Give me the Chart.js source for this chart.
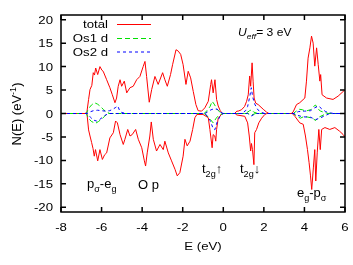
<!DOCTYPE html>
<html>
<head>
<meta charset="utf-8">
<script src="https://cdn.jsdelivr.net/npm/chart.js@4.4.0/dist/chart.umd.min.js"></script>
<style>
  body { margin: 0; background: #fff; }
  #wrap { width: 353px; height: 265px; }
</style>
</head>
<body>
<div id="wrap"><canvas id="dos" width="353" height="265"></canvas></div>
<script>
// total DOS, spin up (positive) and spin down (negative), energies in eV
const totalUpE = [-8, -6.80, -6.72, -6.64, -6.57, -6.48, -6.41, -6.35, -6.29, -6.19, -6.08, -5.98, -5.92, -5.75, -5.59, -5.47, -5.34, -5.26, -5.18, -5.09, -5.01, -4.88, -4.76, -4.60, -4.44, -4.27, -4.11, -3.95, -3.86, -3.78, -3.65, -3.53, -3.37, -3.21, -2.99, -2.88, -2.76, -2.60, -2.50, -2.33, -2.22, -2.10, -1.98, -1.84, -1.73, -1.61, -1.48, -1.35, -1.24, -1.07, -0.91, -0.74, -0.62, -0.58, -0.50, -0.41, -0.33, -0.25, -0.15, -0.05, 0.55, 0.67, 0.73, 0.90, 1.05, 1.15, 1.23, 1.30, 1.35, 1.42, 1.47, 1.52, 1.60, 1.72, 1.97, 2.13, 2.25, 3.35, 3.44, 3.61, 3.77, 4.02, 4.10, 4.18, 4.27, 4.35, 4.43, 4.51, 4.60, 4.68, 4.76, 4.80, 4.87, 5.09, 5.41, 5.66, 5.91, 6];
const totalUpN = [0, 0, 0.4, 3, 5.1, 6, 8.7, 8.2, 9.7, 8.3, 10, 9.2, 9.0, 7.2, 5.5, 4.0, 2.3, 3.3, 5.8, 7.2, 5.8, 6.9, 4.4, 5.5, 5.8, 7.2, 7.9, 10, 11.1, 7.9, 2.4, 5.1, 7.9, 6.2, 8.7, 7.2, 5.8, 8.3, 10.4, 13.6, 13.3, 12.6, 10.4, 6.2, 9.0, 7.6, 4.7, 1.9, 0.6, 0.5, 1.2, 2.6, 6.2, 7.2, 4.4, 7.2, 3.0, 1.6, 0.6, 0, 0, 0.5, 0.5, 0.8, 1.5, 2.6, 4.0, 8.0, 5.8, 10.8, 6.9, 3.3, 2.2, 1.9, 0.9, 0.3, 0, 0, 0.3, 1.9, 2.3, 3.3, 6.9, 11.8, 14.0, 16.5, 15.0, 10.1, 14.0, 10.4, 6.9, 8.3, 4.0, 3.3, 3.0, 3.7, 4.7, 5];
const totalDnE = [-8, -6.80, -6.72, -6.64, -6.57, -6.49, -6.42, -6.36, -6.30, -6.19, -6.08, -5.96, -5.85, -5.75, -5.59, -5.42, -5.31, -5.22, -5.09, -4.93, -4.85, -4.71, -4.60, -4.49, -4.32, -4.19, -4.02, -3.89, -3.83, -3.75, -3.62, -3.55, -3.45, -3.29, -3.12, -2.96, -2.88, -2.71, -2.55, -2.38, -2.27, -2.14, -1.98, -1.89, -1.78, -1.64, -1.51, -1.40, -1.30, -1.00, -0.74, -0.66, -0.55, -0.50, -0.42, -0.37, -0.33, -0.25, -0.05, 0.60, 0.65, 1.06, 1.20, 1.28, 1.35, 1.39, 1.44, 1.51, 1.55, 1.64, 1.75, 1.89, 2.05, 2.15, 3.40, 3.53, 3.77, 3.94, 4.05, 4.15, 4.23, 4.30, 4.36, 4.44, 4.51, 4.56, 4.63, 4.71, 4.78, 4.85, 5.01, 5.25, 5.50, 5.74, 5.91, 6];
const totalDnN = [0, 0, 0, -3.5, -4.8, -6.2, -7.5, -9.1, -7.7, -10.1, -7.7, -9.8, -8.8, -8.4, -5.2, -4.1, -1.6, -2.0, -4.5, -6.6, -5.5, -3.4, -4.8, -4.5, -3.4, -5.5, -7.3, -10.1, -11.2, -8.4, -4.8, -1.8, -5.5, -8.0, -6.6, -7.7, -5.9, -8.4, -10.1, -11.9, -13.3, -12.6, -9.1, -5.5, -6.9, -5.9, -3.4, -0.9, -0.2, -0.2, -0.9, -3.4, -7.3, -4.5, -4.8, -5.9, -3.4, -1.0, 0, 0, -0.3, -0.6, -2.0, -4.8, -8.0, -6.4, -7.7, -10.9, -4.1, -3.4, -2.0, -1.0, -0.2, 0, 0, -0.6, -2.0, -2.3, -4.8, -7.7, -10.5, -13.3, -16.2, -11.6, -7.7, -14.4, -8.4, -3.4, -7.7, -3.4, -3.0, -3.4, -3.0, -3.8, -4.5, -5];

// Os1 d
const os1UpE = [-8, -6.75, -6.65, -6.50, -6.35, -6.20, -6.05, -5.90, -5.75, -5.60, -0.95, -0.80, -0.65, -0.55, -0.45, -0.30, -0.15, 0, 1.10, 1.30, 1.40, 1.50, 1.70, 3.45, 3.60, 3.75, 3.90, 4.05, 4.30, 4.45, 4.55, 4.65, 4.80, 5.00, 5.20, 6];
const os1UpN = [0, 0, 1.0, 1.8, 2.3, 2.0, 1.5, 0.8, 0.3, 0, 0, 0.6, 1.5, 2.6, 2.0, 0.9, 0.2, 0, 0, 0.6, 0.8, 0.3, 0, 0, 0.5, 0.9, 0.8, 0.5, 0.8, 1.5, 1.8, 1.0, 0.5, 0.2, 0, 0];
const os1DnE = [-8, -6.75, -6.65, -6.50, -6.30, -6.15, -6.00, -5.85, -5.70, -0.95, -0.80, -0.65, -0.50, -0.35, -0.20, 0, 1.20, 1.40, 1.60, 3.45, 3.60, 3.80, 4.00, 4.40, 4.55, 4.70, 5.00, 5.20, 6];
const os1DnN = [0, 0, -1.0, -1.7, -2.1, -1.7, -1.2, -0.6, 0, 0, -0.5, -1.2, -2.0, -1.0, -0.3, 0, 0, -0.3, 0, 0, -0.5, -1.0, -0.6, -1.0, -1.5, -0.8, -0.2, 0, 0];

// Os2 d
const os2UpE = [-8, -6.75, -6.60, -6.40, -6.20, -6.00, -5.80, -5.60, -5.45, -5.30, -5.20, -5.10, -5.00, -4.80, -0.90, -0.75, -0.60, -0.45, -0.30, -0.15, 0, 0.90, 1.10, 1.20, 1.30, 1.38, 1.45, 1.55, 1.70, 1.90, 2.05, 3.50, 3.70, 4.00, 4.30, 4.50, 4.70, 4.85, 5.05, 5.30, 5.50, 6];
const os2UpN = [0, 0, 0.3, 0.6, 0.7, 0.6, 0.5, 0.6, 0.9, 1.3, 1.6, 0.5, 0.2, 0, 0, 0.4, 0.8, 1.0, 0.9, 0.3, 0, 0, 0.6, 1.5, 3.5, 5.5, 3.5, 2.0, 0.8, 0.2, 0, 0, 0.4, 0.5, 0.6, 1.2, 1.6, 1.0, 0.4, 0.1, 0, 0];
const os2DnE = [-8, -6.70, -6.55, -6.40, -6.25, -6.10, -5.95, -5.80, -5.60, -0.90, -0.80, -0.65, -0.50, -0.42, -0.30, -0.15, 0, 1.20, 1.40, 1.60, 3.45, 3.60, 3.90, 4.30, 4.55, 4.75, 5.00, 5.20, 5.40, 6];
const os2DnN = [0, 0, -0.8, -1.4, -1.6, -1.3, -0.8, -0.3, 0, 0, -0.5, -1.5, -3.2, -3.5, -1.8, -0.5, 0, 0, -0.5, 0, 0, -0.3, -0.7, -0.8, -1.3, -1.0, -0.5, -0.1, 0, 0];

const xTicks = [-8, -6, -4, -2, 0, 2, 4, 6];
const yTicks = [20, 15, 10, 5, 0, -5, -10, -15, -20];

const FONT = '"Liberation Sans", Arial, sans-serif';
const RED = "#ff0000";
const GREEN = "#00e000";
const BLUE = "#0000ff";

function pts(xs, ys) {
  return xs.map((e, i) => ({ x: e, y: ys[i] }));
}

function series(xs, ys, color, dash, order) {
  return {
    data: pts(xs, ys),
    borderColor: color,
    borderWidth: 1,
    borderDash: dash,
    pointRadius: 0,
    tension: 0,
    fill: false,
    order: order,
  };
}

// draws text made of parts (normal / sub / sup / italic), sx stretches horizontally
function runs(ctx, parts, x, y, size, sx, align) {
  ctx.save();
  let w = 0;
  parts.forEach((p) => {
    ctx.font = (p.it ? "italic " : "") + (p.sub || p.sup ? size * 0.7 : size) + "px " + FONT;
    w += ctx.measureText(p.t).width;
  });
  ctx.translate(x, y);
  ctx.scale(sx, 1);
  let cx = align === "right" ? -w : align === "center" ? -w / 2 : 0;
  ctx.textAlign = "left";
  ctx.textBaseline = "alphabetic";
  ctx.fillStyle = "#000";
  parts.forEach((p) => {
    const fs = p.sub || p.sup ? size * 0.7 : size;
    ctx.font = (p.it ? "italic " : "") + fs + "px " + FONT;
    const dy = p.sub ? size * 0.3 : p.sup ? -size * 0.4 : 0;
    ctx.fillText(p.t, cx, dy);
    cx += ctx.measureText(p.t).width;
  });
  ctx.restore();
}

const extras = {
  id: "extras",
  afterDatasetsDraw(chart) {
    const { ctx, chartArea: a, scales } = chart;
    const x = scales.x;
    const y = scales.y;
    ctx.save();
    ctx.strokeStyle = "#000";
    ctx.lineWidth = 1.5;
    ctx.setLineDash([]);
    ctx.strokeRect(a.left, a.top, a.right - a.left, a.bottom - a.top);
    ctx.beginPath();
    xTicks.forEach((v) => {
      const px = x.getPixelForValue(v);
      ctx.moveTo(px, a.bottom);
      ctx.lineTo(px, a.bottom - 5);
      ctx.moveTo(px, a.top);
      ctx.lineTo(px, a.top + 5);
    });
    yTicks.forEach((v) => {
      const py = y.getPixelForValue(v);
      ctx.moveTo(a.left, py);
      ctx.lineTo(a.left + 5, py);
      ctx.moveTo(a.right, py);
      ctx.lineTo(a.right - 5, py);
    });
    ctx.stroke();

    // tick labels
    yTicks.forEach((v) => {
      runs(ctx, [{ t: String(v) }], a.left - 8, y.getPixelForValue(v) + 4, 11, 1.2, "right");
    });
    xTicks.forEach((v) => {
      runs(ctx, [{ t: String(v) }], x.getPixelForValue(v), 231, 11, 1.2, "center");
    });

    // axis titles
    runs(ctx, [{ t: "E (eV)" }], (a.left + a.right) / 2, 250, 11, 1.2, "center");
    ctx.save();
    ctx.translate(21, 114);
    ctx.rotate(-Math.PI / 2);
    runs(ctx, [{ t: "N(E) (eV" }, { t: "-1", sup: true }, { t: ")" }], 0, 0, 13, 1, "center");
    ctx.restore();

    // legend
    const legend = [
      ["total", RED, [], 24],
      ["Os1 d", GREEN, [5, 3], 38],
      ["Os2 d", BLUE, [3, 3], 51.5],
    ];
    legend.forEach(([label, color, dash, ly]) => {
      runs(ctx, [{ t: label }], 108, ly + 4, 11, 1.2, "right");
      ctx.beginPath();
      ctx.strokeStyle = color;
      ctx.lineWidth = 1;
      ctx.setLineDash(dash);
      ctx.moveTo(117, ly + 0.5);
      ctx.lineTo(151, ly + 0.5);
      ctx.stroke();
    });
    ctx.setLineDash([]);

    // annotations
    runs(ctx, [{ t: "U", it: true }, { t: "eff", it: true, sub: true }, { t: "= 3 eV" }], 238, 36, 11, 1.1, "left");
    runs(ctx, [{ t: "p" }, { t: "\u03c3", sub: true }, { t: "-e" }, { t: "g", sub: true }], 87, 188, 13, 1, "left");
    runs(ctx, [{ t: "O p" }], 138, 189, 13, 1, "left");
    runs(ctx, [{ t: "t" }, { t: "2g", sub: true }, { t: "\u2191" }], 202, 173, 13, 1, "left");
    runs(ctx, [{ t: "t" }, { t: "2g", sub: true }, { t: "\u2193" }], 240, 173, 13, 1, "left");
    runs(ctx, [{ t: "e" }, { t: "g", sub: true }, { t: "-p" }, { t: "\u03c3", sub: true }], 297, 197, 13, 1, "left");
    ctx.restore();
  },
};

new Chart(document.getElementById("dos").getContext("2d"), {
  type: "line",
  data: {
    datasets: [
      series(totalUpE, totalUpN, RED, [], 3),
      series(totalDnE, totalDnN, RED, [], 3),
      series(os1UpE, os1UpN, GREEN, [5, 3], 2),
      series(os1DnE, os1DnN, GREEN, [5, 3], 2),
      series(os2UpE, os2UpN, BLUE, [3, 3], 1),
      series(os2DnE, os2DnN, BLUE, [3, 3], 1),
    ],
  },
  options: {
    responsive: false,
    animation: false,
    layout: { padding: { left: 61, top: 15, right: 8, bottom: 53 } },
    plugins: { legend: { display: false }, tooltip: { enabled: false } },
    scales: {
      x: { type: "linear", min: -8, max: 6, display: false },
      y: { type: "linear", min: -21, max: 21, display: false },
    },
  },
  plugins: [extras],
});
</script>
</body>
</html>
